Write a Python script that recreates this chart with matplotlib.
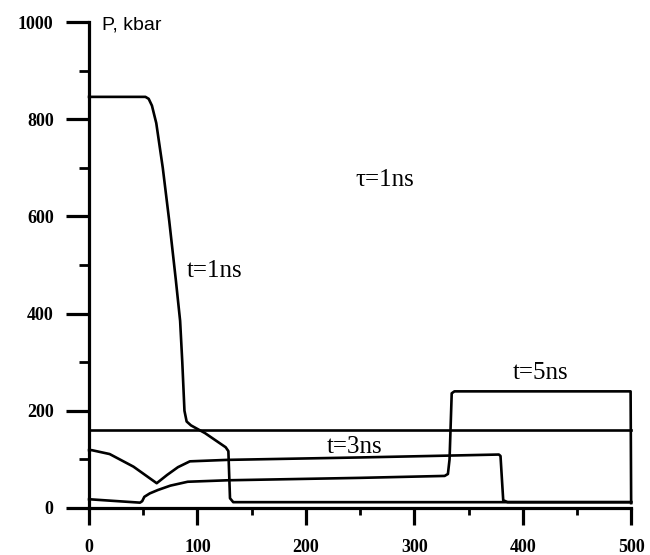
import numpy as np
import matplotlib
matplotlib.use("Agg")
import matplotlib.pyplot as plt
from matplotlib.ticker import MultipleLocator

# pressure profiles (x in microns-ish, P in kbar)
t1_x = [0, 52, 55, 58, 62, 68, 74, 80, 84, 86, 88, 90, 94, 107, 126, 128.5, 130, 133, 500]
t1_y = [846, 846, 842, 828, 792, 700, 590, 470, 385, 300, 200, 178, 170, 154, 125, 117, 20, 12, 12]

t3_x = [0, 2.5, 19, 41, 62.4, 72, 82, 93, 127.5, 250, 378, 379.5, 382, 386, 500]
t3_y = [119, 119, 111, 85, 51, 68, 84, 96, 99, 104, 110, 107, 16, 12, 12]

t5_x = [0, 20, 47, 49, 51, 56, 63.5, 75, 91, 127.5, 250, 328, 331, 332.5, 334.5, 337, 499.5, 500]
t5_y = [18, 15, 11, 14, 23, 30, 37, 46, 54, 57, 62, 66, 70, 100, 236, 240, 240, 10]

ref_x = [0, 500]
ref_y = [161, 161]

xticks = [0, 100, 200, 300, 400, 500]
yticks = [0, 200, 400, 600, 800, 1000]

fig = plt.figure(figsize=(6.5, 5.55), dpi=100)
ax = fig.add_axes([0.137, 0.0847, 0.834, 0.8756])

lw = 1.9
for xs, ys in [(t1_x, t1_y), (t3_x, t3_y), (t5_x, t5_y), (ref_x, ref_y)]:
    ax.plot(xs, ys, color="black", lw=lw, clip_on=False, solid_joinstyle="round")

ax.set_xlim(0, 500)
ax.set_ylim(0, 1000)
ax.spines["top"].set_visible(False)
ax.spines["right"].set_visible(False)
ax.spines["left"].set_linewidth(2.3)
ax.spines["bottom"].set_linewidth(2.3)

ax.set_xticks(xticks)
ax.set_yticks(yticks)
ax.xaxis.set_minor_locator(MultipleLocator(50))
ax.yaxis.set_minor_locator(MultipleLocator(100))
ax.tick_params(axis="y", which="major", length=16.5, width=2.3, pad=9)
ax.tick_params(axis="y", which="minor", length=7, width=2.0)
ax.tick_params(axis="x", which="major", length=12, width=2.3, pad=10)
ax.tick_params(axis="x", which="minor", length=5, width=2.0)

for lab in ax.get_xticklabels() + ax.get_yticklabels():
    lab.set_fontfamily("Liberation Serif")
    lab.set_fontweight("bold")
    lab.set_fontsize(13)

ax.text(12, 993, "P, kbar", fontsize=14, family="Liberation Sans",
        ha="left", va="center")

serif = dict(family="Liberation Serif", fontsize=18, ha="center", va="center")
ax.text(273, 675, "τ=1ns", **serif)
ax.text(116, 488, "t=1ns", **serif)
ax.text(244.5, 125, "t=3ns", **serif)
ax.text(416, 278, "t=5ns", **serif)

fig.savefig("out.png", dpi=100)
